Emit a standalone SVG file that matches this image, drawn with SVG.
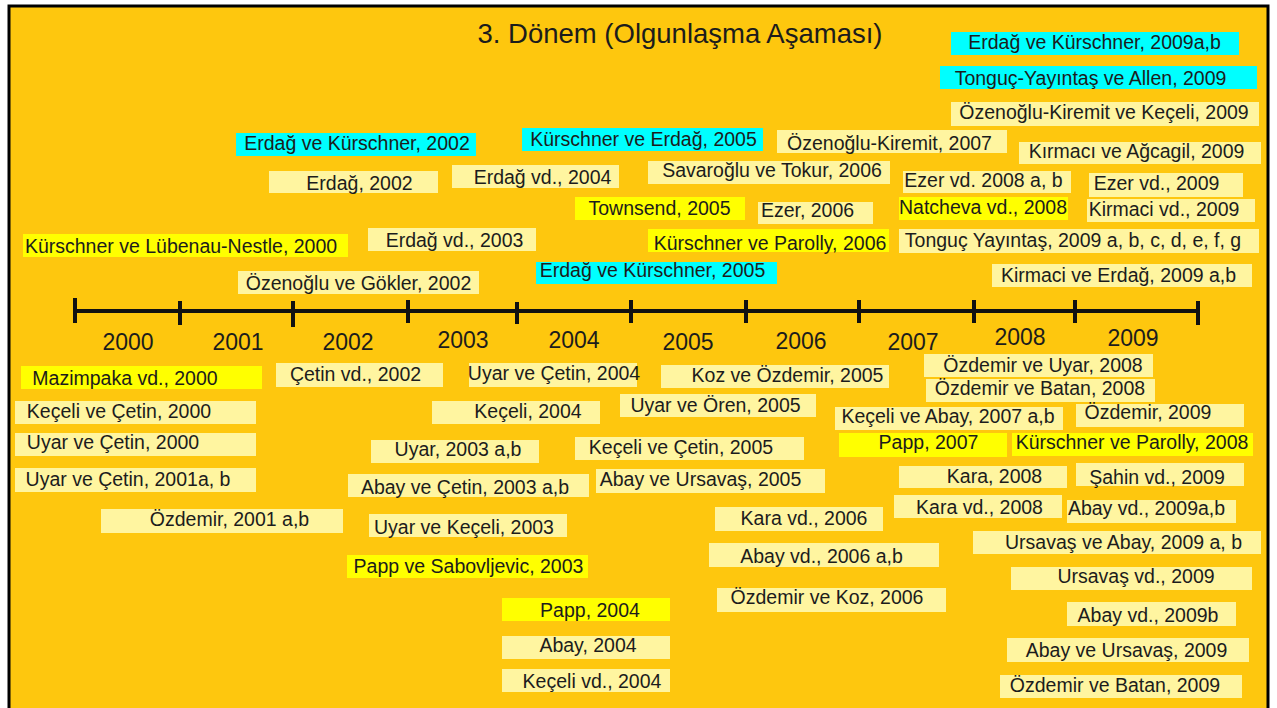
<svg xmlns="http://www.w3.org/2000/svg" width="1277" height="708" viewBox="0 0 1277 708">
<style>
.c{fill:#FFF5A0}
.y{fill:#FFFF00}
.b{fill:#00FFFF}
text{font-family:"Liberation Sans",Arial,sans-serif;fill:#1c1c1c;text-anchor:middle}
.t{font-size:19.5px}
.yr{font-size:23px}
.ti{font-size:27.5px}
.ax{stroke:#111;stroke-width:4;fill:none}
</style>
<rect x="0" y="0" width="1277" height="708" fill="#FFFFFF"/>
<rect x="9" y="6" width="1259" height="720" fill="#FEC70E" stroke="#000" stroke-width="3"/>
<g id="title"><text class="ti" x="680" y="43">3. Dönem (Olgunlaşma Aşaması)</text></g>
<g id="connectors">
<path class="ax" d="M75 311H1198"/>
<path class="ax" d="M75 298V323M180 301V325M293 301V327M408 300V323M517 302V324M631 300V323M746 300V323M859 300V323M974 300V323M1075 300V323M1198 301V325"/>
</g>
<g id="years">
<text class="yr" x="128" y="350">2000</text>
<text class="yr" x="238" y="350">2001</text>
<text class="yr" x="348" y="350">2002</text>
<text class="yr" x="463" y="348">2003</text>
<text class="yr" x="574" y="348">2004</text>
<text class="yr" x="688" y="350">2005</text>
<text class="yr" x="801" y="349">2006</text>
<text class="yr" x="913" y="350">2007</text>
<text class="yr" x="1020" y="345">2008</text>
<text class="yr" x="1133" y="346">2009</text>
</g>
<g id="n1"><rect class="b" x="236" y="133" width="240" height="23"/><text class="t" x="357" y="150">Erdağ ve Kürschner, 2002</text></g>
<g id="n2"><rect class="c" x="269" y="171" width="169" height="22"/><text class="t" x="359.5" y="190">Erdağ, 2002</text></g>
<g id="n3"><rect class="y" x="23" y="234" width="325" height="23"/><text class="t" x="181" y="253">Kürschner ve Lübenau-Nestle, 2000</text></g>
<g id="n4"><rect class="c" x="368" y="228" width="168" height="23"/><text class="t" x="454.5" y="247">Erdağ vd., 2003</text></g>
<g id="n5"><rect class="c" x="238" y="271" width="241" height="23"/><text class="t" x="358.5" y="290">Özenoğlu ve Gökler, 2002</text></g>
<g id="n6"><rect class="b" x="522" y="128" width="241" height="23"/><text class="t" x="643.5" y="146">Kürschner ve Erdağ, 2005</text></g>
<g id="n7"><rect class="c" x="777" y="130" width="230" height="23"/><text class="t" x="889.5" y="150">Özenoğlu-Kiremit, 2007</text></g>
<g id="n8"><rect class="c" x="452" y="165" width="167" height="23"/><text class="t" x="542.5" y="184">Erdağ vd., 2004</text></g>
<g id="n9"><rect class="c" x="648" y="161" width="242" height="23"/><text class="t" x="772" y="177">Savaroğlu ve Tokur, 2006</text></g>
<g id="n10"><rect class="y" x="575" y="197" width="170" height="23"/><text class="t" x="659.5" y="215">Townsend, 2005</text></g>
<g id="n11"><rect class="c" x="758" y="202" width="115" height="22"/><text class="t" x="807.5" y="217">Ezer, 2006</text></g>
<g id="n12"><rect class="y" x="648" y="229" width="241" height="23"/><text class="t" x="770" y="250">Kürschner ve Parolly, 2006</text></g>
<g id="n13"><rect class="b" x="536" y="262" width="241" height="22"/><text class="t" x="652.5" y="277">Erdağ ve Kürschner, 2005</text></g>
<g id="n14"><rect class="b" x="951" y="32" width="288" height="23"/><text class="t" x="1094.5" y="49">Erdağ ve Kürschner, 2009a,b</text></g>
<g id="n15"><rect class="b" x="940" y="66" width="317" height="23"/><text class="t" x="1090.5" y="85">Tonguç-Yayıntaş ve Allen, 2009</text></g>
<g id="n16"><rect class="c" x="951" y="102" width="308" height="24"/><text class="t" x="1104" y="119">Özenoğlu-Kiremit ve Keçeli, 2009</text></g>
<g id="n17"><rect class="c" x="1019" y="142" width="242" height="22"/><text class="t" x="1136.5" y="158">Kırmacı ve Ağcagil, 2009</text></g>
<g id="n18"><rect class="c" x="903" y="171" width="168" height="22"/><text class="t" x="983.5" y="187">Ezer vd. 2008 a, b</text></g>
<g id="n19"><rect class="c" x="1089" y="173" width="154" height="24"/><text class="t" x="1156.5" y="190">Ezer vd., 2009</text></g>
<g id="n20"><rect class="y" x="899" y="197" width="169" height="23"/><text class="t" x="983" y="214">Natcheva vd., 2008</text></g>
<g id="n21"><rect class="c" x="1087" y="199" width="168" height="23"/><text class="t" x="1164" y="216">Kirmaci vd., 2009</text></g>
<g id="n22"><rect class="c" x="899" y="229" width="360" height="24"/><text class="t" x="1073" y="247">Tonguç Yayıntaş, 2009 a, b, c, d, e, f, g</text></g>
<g id="n23"><rect class="c" x="992" y="264" width="260" height="23"/><text class="t" x="1118.5" y="282">Kirmaci ve Erdağ, 2009 a,b</text></g>
<g id="n24"><rect class="y" x="21" y="366" width="241" height="23"/><text class="t" x="125" y="385">Mazimpaka vd., 2000</text></g>
<g id="n25"><rect class="c" x="276" y="363" width="167" height="24"/><text class="t" x="355.5" y="381">Çetin vd., 2002</text></g>
<g id="n26"><rect class="c" x="469" y="363" width="168" height="24"/><text class="t" x="554" y="380">Uyar ve Çetin, 2004</text></g>
<g id="n27"><rect class="c" x="661" y="365" width="228" height="23"/><text class="t" x="787.5" y="382">Koz ve Özdemir, 2005</text></g>
<g id="n28"><rect class="c" x="924" y="354" width="229" height="23"/><text class="t" x="1043" y="372">Özdemir ve Uyar, 2008</text></g>
<g id="n29"><rect class="c" x="926" y="379" width="229" height="23"/><text class="t" x="1040" y="395">Özdemir ve Batan, 2008</text></g>
<g id="n30"><rect class="c" x="15" y="401" width="241" height="23"/><text class="t" x="119" y="418">Keçeli ve Çetin, 2000</text></g>
<g id="n31"><rect class="c" x="432" y="401" width="168" height="23"/><text class="t" x="528" y="418">Keçeli, 2004</text></g>
<g id="n32"><rect class="c" x="620" y="394" width="196" height="23"/><text class="t" x="715.5" y="412">Uyar ve Ören, 2005</text></g>
<g id="n33"><rect class="c" x="835" y="407" width="228" height="23"/><text class="t" x="948" y="423">Keçeli ve Abay, 2007 a,b</text></g>
<g id="n34"><rect class="c" x="1076" y="404" width="168" height="23"/><text class="t" x="1148" y="419">Özdemir, 2009</text></g>
<g id="n35"><rect class="c" x="15" y="433" width="241" height="23"/><text class="t" x="113" y="449">Uyar ve Çetin, 2000</text></g>
<g id="n36"><rect class="c" x="371" y="440" width="168" height="23"/><text class="t" x="458" y="456">Uyar, 2003 a,b</text></g>
<g id="n37"><rect class="c" x="575" y="437" width="229" height="23"/><text class="t" x="681" y="454">Keçeli ve Çetin, 2005</text></g>
<g id="n38"><rect class="y" x="839" y="433" width="168" height="24"/><text class="t" x="928.5" y="449">Papp, 2007</text></g>
<g id="n39"><rect class="y" x="1012" y="433" width="241" height="23"/><text class="t" x="1132" y="449">Kürschner ve Parolly, 2008</text></g>
<g id="n40"><rect class="c" x="899" y="466" width="168" height="22"/><text class="t" x="994.5" y="483">Kara, 2008</text></g>
<g id="n41"><rect class="c" x="1076" y="463" width="168" height="23"/><text class="t" x="1157" y="484">Şahin vd., 2009</text></g>
<g id="n42"><rect class="c" x="15" y="468" width="241" height="24"/><text class="t" x="128" y="486">Uyar ve Çetin, 2001a, b</text></g>
<g id="n43"><rect class="c" x="348" y="474" width="241" height="23"/><text class="t" x="465" y="494">Abay ve Çetin, 2003 a,b</text></g>
<g id="n44"><rect class="c" x="596" y="469" width="229" height="24"/><text class="t" x="700.5" y="486">Abay ve Ursavaş, 2005</text></g>
<g id="n45"><rect class="c" x="894" y="495" width="168" height="23"/><text class="t" x="979.5" y="514">Kara vd., 2008</text></g>
<g id="n46"><rect class="c" x="1067" y="500" width="169" height="23"/><text class="t" x="1146.5" y="515">Abay vd., 2009a,b</text></g>
<g id="n47"><rect class="c" x="101" y="509" width="242" height="24"/><text class="t" x="229.5" y="526">Özdemir, 2001 a,b</text></g>
<g id="n48"><rect class="c" x="369" y="514" width="198" height="23"/><text class="t" x="464" y="534">Uyar ve Keçeli, 2003</text></g>
<g id="n49"><rect class="c" x="715" y="507" width="168" height="24"/><text class="t" x="804" y="525">Kara vd., 2006</text></g>
<g id="n50"><rect class="c" x="973" y="531" width="288" height="23"/><text class="t" x="1123.5" y="549">Ursavaş ve Abay, 2009 a, b</text></g>
<g id="n51"><rect class="c" x="709" y="543" width="230" height="24"/><text class="t" x="821.5" y="563">Abay vd., 2006 a,b</text></g>
<g id="n52"><rect class="y" x="347" y="555" width="241" height="23"/><text class="t" x="468.5" y="573">Papp ve Sabovljevic, 2003</text></g>
<g id="n53"><rect class="c" x="1011" y="567" width="241" height="23"/><text class="t" x="1136" y="583">Ursavaş vd., 2009</text></g>
<g id="n54"><rect class="c" x="717" y="588" width="229" height="24"/><text class="t" x="827" y="604">Özdemir ve Koz, 2006</text></g>
<g id="n55"><rect class="y" x="502" y="598" width="168" height="23"/><text class="t" x="590" y="617">Papp, 2004</text></g>
<g id="n56"><rect class="c" x="1067" y="602" width="169" height="24"/><text class="t" x="1148" y="622">Abay vd., 2009b</text></g>
<g id="n57"><rect class="c" x="502" y="636" width="168" height="23"/><text class="t" x="588" y="652">Abay, 2004</text></g>
<g id="n58"><rect class="c" x="1007" y="638" width="242" height="24"/><text class="t" x="1126.5" y="657">Abay ve Ursavaş, 2009</text></g>
<g id="n59"><rect class="c" x="502" y="669" width="168" height="23"/><text class="t" x="592" y="688">Keçeli vd., 2004</text></g>
<g id="n60"><rect class="c" x="1000" y="675" width="242" height="23"/><text class="t" x="1115" y="692">Özdemir ve Batan, 2009</text></g>
</svg>
